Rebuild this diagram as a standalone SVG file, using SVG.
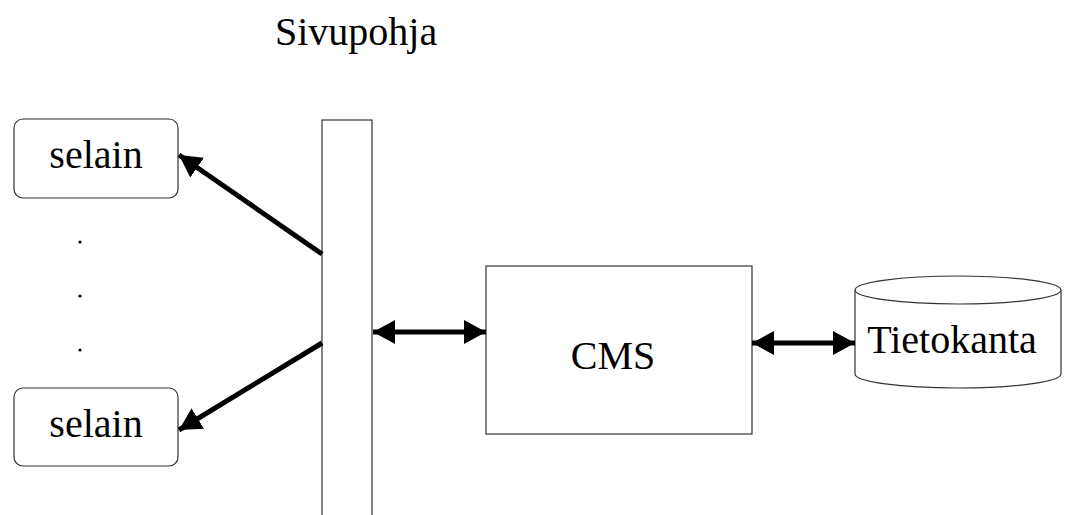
<svg xmlns="http://www.w3.org/2000/svg" width="1067" height="515" viewBox="0 0 1067 515">
<style>
.box{fill:#fff;stroke:#333;stroke-width:1.2}
.t{font-family:'Liberation Serif','DejaVu Serif',serif;font-size:40px;fill:#000}
.con{stroke:#000;stroke-width:5;fill:none}
</style>
<defs>
<marker id="ah" markerUnits="userSpaceOnUse" markerWidth="24" markerHeight="26" refX="22" refY="12" orient="auto-start-reverse" viewBox="0 0 24 24">
<path d="M0,0 L22,12 L0,24 Z" fill="#000"/>
</marker>
</defs>
<rect width="1067" height="515" fill="#fff"/>
<g id="sivupohja">
<text class="t" x="275" y="45">Sivupohja</text>
<rect class="box" x="322" y="120" width="50" height="400"/>
</g>
<g id="selain1">
<rect class="box" x="14" y="119" width="164" height="79" rx="9"/>
<text class="t" x="96" y="168" text-anchor="middle">selain</text>
</g>
<g id="selain2">
<rect class="box" x="14" y="388" width="164" height="78" rx="9"/>
<text class="t" x="96" y="437" text-anchor="middle">selain</text>
</g>
<g id="dots" fill="#000">
<circle cx="80" cy="242" r="1.6"/>
<circle cx="80" cy="296" r="1.6"/>
<circle cx="80" cy="350" r="1.6"/>
</g>
<g id="cms">
<rect class="box" x="486" y="266" width="266" height="168"/>
<text class="t" x="613" y="369" text-anchor="middle">CMS</text>
</g>
<g id="tietokanta">
<path class="box" d="M855,290 L855,374 A103,14 0 0 0 1061,374 L1061,290"/>
<ellipse class="box" cx="958" cy="290" rx="103" ry="14"/>
<text class="t" x="952" y="353" text-anchor="middle">Tietokanta</text>
</g>
<g id="connectors">
<line class="con" x1="322" y1="254" x2="179" y2="155" marker-end="url(#ah)"/>
<line class="con" x1="322" y1="343" x2="179" y2="430" marker-end="url(#ah)"/>
<line class="con" x1="373" y1="332" x2="486" y2="332" marker-start="url(#ah)" marker-end="url(#ah)"/>
<line class="con" x1="752" y1="343" x2="855" y2="343" marker-start="url(#ah)" marker-end="url(#ah)"/>
</g>
</svg>
